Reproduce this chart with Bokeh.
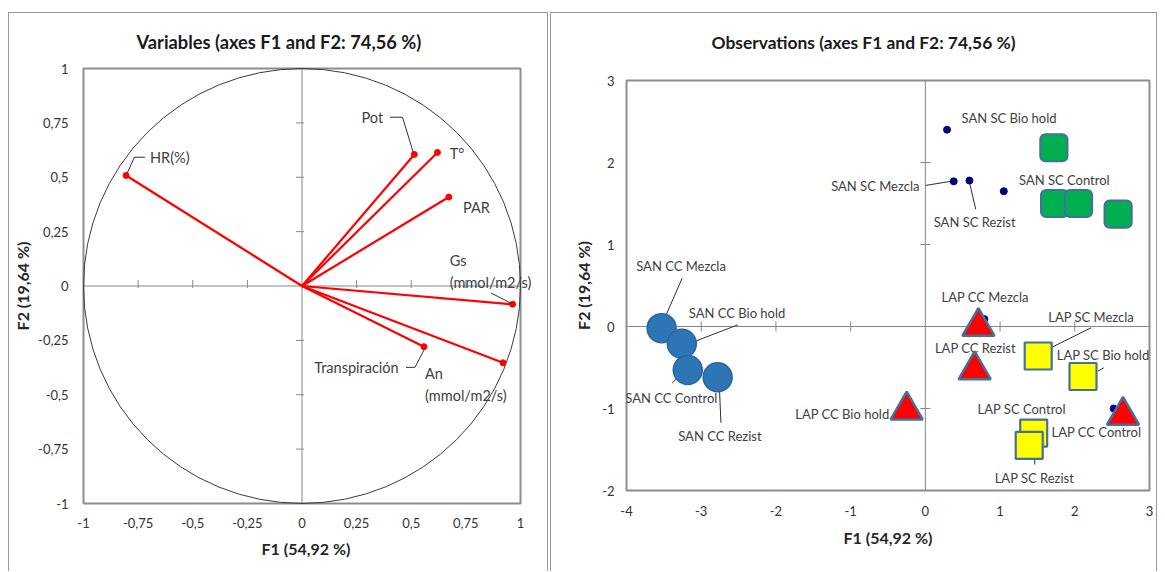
from bokeh.plotting import figure
from bokeh.models import (Range1d, Spacer, Title, LabelSet, ColumnDataSource, FixedTicker,
                          CustomJSTickFormatter, Rect)
from bokeh.layouts import row, column
from bokeh.embed import file_html
from bokeh.resources import INLINE
from bokeh.core.properties import value

FONT = "Lato"
TEXT_GRAY = "#404040"
AXIS_GRAY = "#868686"
FRAME_GRAY = "#8c8c8c"
MARKER_EDGE = "#41719c"

# ---------------- Variables (correlation circle) ----------------
var_names = ["HR(%)", "Pot", "T°", "PAR", "Gs\n(mmol/m2/s)", "Transpiración", "An\n(mmol/m2/s)"]
var_f1 = [-0.805, 0.514, 0.620, 0.672, 0.964, 0.558, 0.920]
var_f2 = [0.508, 0.605, 0.614, 0.409, -0.084, -0.279, -0.353]

# label anchor points (centre of each label)
var_lab_x = [-0.605, 0.322, 0.709, 0.798, 0.863, 0.249, 0.750]
var_lab_y = [0.592, 0.773, 0.608, 0.363, 0.066, -0.374, -0.453]

# leader lines from labels to their arrow tips
var_lead_xs = [[-0.800, -0.767, -0.719], [0.403, 0.460, 0.509], [0.865, 0.960], [0.476, 0.517, 0.558]]
var_lead_ys = [[0.519, 0.592, 0.592], [0.776, 0.776, 0.615], [-0.032, -0.081], [-0.374, -0.374, -0.295]]

var_ticks = [-1, -0.75, -0.5, -0.25, 0, 0.25, 0.5, 0.75, 1]

# ---------------- Observations ----------------
obs_names = ["SAN SC Bio hold", "SAN SC Mezcla", "SAN SC Rezist", "SAN SC Control",
             "SAN CC Mezcla", "SAN CC Bio hold", "SAN CC Control", "SAN CC Rezist",
             "LAP CC Mezcla", "LAP CC Rezist", "LAP CC Bio hold", "LAP CC Control",
             "LAP SC Mezcla", "LAP SC Bio hold", "LAP SC Control", "LAP SC Rezist"]
obs_f1 = [0.29, 0.38, 0.59, 1.05,
          -3.53, -3.26, -3.18, -2.78,
          0.79, 0.66, -0.25, 2.52,
          1.51, 2.11, 1.45, 1.39]
obs_f2 = [2.40, 1.77, 1.78, 1.65,
          -0.02, -0.21, -0.53, -0.62,
          0.09, -0.53, -1.02, -1.00,
          -0.36, -0.61, -1.30, -1.45]

obs_lab_x = [1.12, -0.67, 0.66, 1.86,
             -3.27, -2.52, -3.40, -2.75,
             0.80, 0.67, -1.11, 2.29,
             2.22, 2.38, 1.29, 1.46]
obs_lab_y = [2.54, 1.71, 1.28, 1.79,
             0.74, 0.17, -0.87, -1.34,
             0.36, -0.26, -1.07, -1.29,
             0.12, -0.35, -1.01, -1.85]

obs_lead_xs = [[0.00, 0.34], [0.674, 0.59],
               [-3.255, -3.47], [-2.51, -3.08], [-3.39, -3.31], [-2.736, -2.756],
               [2.218, 1.70], [2.389, 2.308], [1.464, 1.464]]
obs_lead_ys = [[1.72, 1.77], [1.43, 1.76],
               [0.59, 0.14], [0.02, -0.18], [-0.69, -0.62], [-1.174, -0.757],
               [-0.016, -0.25], [-0.504, -0.545], [-1.626, -1.683]]

# group markers
san_cc_f1 = [-3.53, -3.26, -3.18, -2.78]
san_cc_f2 = [-0.02, -0.21, -0.53, -0.62]
san_sc_f1 = [1.72, 1.73, 2.05, 2.58]
san_sc_f2 = [2.18, 1.50, 1.50, 1.37]
lap_cc_f1 = [0.71, 0.66, -0.25, 2.645]
lap_cc_f2 = [0.00, -0.53, -1.02, -1.085]
lap_sc_f1 = [1.51, 2.11, 1.45, 1.39]
lap_sc_f2 = [-0.36, -0.61, -1.30, -1.45]

obs_xticks = [-4, -3, -2, -1, 0, 1, 2, 3]
obs_yticks = [-2, -1, 0, 1, 2, 3]

comma_fmt = CustomJSTickFormatter(code="return String(tick).replace('.', ',');")


def style_axes(p, xticks, yticks, xstand, ystand, xlab_stand, ylab_stand):
    p.grid.visible = False
    p.xaxis.ticker = FixedTicker(ticks=xticks)
    p.yaxis.ticker = FixedTicker(ticks=yticks)
    for ax in (p.xaxis, p.yaxis):
        ax.formatter = comma_fmt
        ax.axis_line_color = None
        ax.major_tick_line_color = None
        ax.minor_tick_line_color = None
        ax.major_tick_in = 0
        ax.major_tick_out = 0
        ax.major_label_text_font = FONT
        ax.major_label_text_font_size = "13px"
        ax.major_label_text_color = "#333333"
        ax.axis_label_text_font = FONT
        ax.axis_label_text_font_size = "16px"
        ax.axis_label_text_font_style = "bold"
        ax.axis_label_text_color = "#262626"
    p.xaxis.major_label_standoff = xstand
    p.yaxis.major_label_standoff = ystand
    p.xaxis.axis_label_standoff = xlab_stand
    p.yaxis.axis_label_standoff = ylab_stand
    p.xaxis.axis_label = "F1 (54,92 %)"
    p.yaxis.axis_label = "F2 (19,64 %)"


def center_cross(p, xr, yr, xticks, yticks, px_x, px_y, up, down):
    """Zero lines with small tick marks (px_x / px_y = pixels per data unit)."""
    p.segment(x0=[xr[0], 0], y0=[0, yr[0]], x1=[xr[1], 0], y1=[0, yr[1]],
              line_color=AXIS_GRAY, line_width=1)
    xt = [t for t in xticks if t not in (0, xr[0], xr[1])]
    yt = [t for t in yticks if t not in (0, yr[0], yr[1])]
    p.segment(x0=xt, y0=[-down / px_y] * len(xt), x1=xt, y1=[up / px_y] * len(xt),
              line_color=AXIS_GRAY, line_width=1)
    p.segment(x0=[-up / px_x] * len(yt), y0=yt, x1=[down / px_x] * len(yt), y1=yt,
              line_color=AXIS_GRAY, line_width=1)


def chart_title(text, size, offset, standoff):
    return Title(text=text, align="left", offset=offset, standoff=standoff,
                 text_font=FONT, text_font_size=size, text_font_style="bold",
                 text_color="#1a1a1a")


panel_css = {"border-top": "1px solid #9a9a9a", "border-left": "1px solid #9a9a9a",
             "border-right": "1px solid #9a9a9a"}

# ---------------- left chart ----------------
# the plotting area runs a few pixels past the unit box (drawn as a quad) so that
# long labels near the right edge are not cut off
PX_X1, PX_Y1 = 218.5, 217.5
p1 = figure(width=540, height=559,
            x_range=Range1d(-1 - 8 / PX_X1, 1 + 16 / PX_X1),
            y_range=Range1d(-1 - 2 / PX_Y1, 1 + 2 / PX_Y1),
            output_backend="svg", toolbar_location=None,
            min_border_left=66, min_border_right=13, min_border_top=53, min_border_bottom=67,
            title=None)
p1.outline_line_color = None
style_axes(p1, var_ticks, var_ticks, 12, 7, 8, 3)
p1.add_layout(chart_title("Variables (axes F1 and F2: 74,56 %)", "18.3px", 61, 28), "above")
p1.quad(left=-1, right=1, bottom=-1, top=1, fill_color=None,
        line_color=FRAME_GRAY, line_width=2)
center_cross(p1, (-1, 1), (-1, 1), var_ticks, var_ticks, PX_X1, PX_Y1, 6, 2)

p1.ellipse(x=0, y=0, width=2, height=2, fill_color=None, line_color="#3a3a3a", line_width=1)
p1.segment(x0=[0] * len(var_f1), y0=[0] * len(var_f2), x1=var_f1, y1=var_f2,
           line_color="#ff0000", line_width=2.2)
p1.scatter(var_f1, var_f2, size=6, color="#ff0000")
p1.multi_line(var_lead_xs, var_lead_ys, line_color="#303030", line_width=1)
var_src = ColumnDataSource(dict(x=var_lab_x, y=var_lab_y, name=var_names))
p1.add_layout(LabelSet(x="x", y="y", text="name", source=var_src, text_align="center",
                       text_baseline="middle", text_font=value(FONT),
                       text_font_size="14.5px", text_color=TEXT_GRAY, text_line_height=1.3))
p1.styles = panel_css

# ---------------- right chart ----------------
p2 = figure(width=607, height=559, x_range=Range1d(-4, 3), y_range=Range1d(-2, 3),
            output_backend="svg", toolbar_location=None,
            min_border_left=75, min_border_right=9, min_border_top=67, min_border_bottom=82,
            title=None)
p2.outline_line_color = FRAME_GRAY
p2.outline_line_width = 2
style_axes(p2, obs_xticks, obs_yticks, 15, 12, 9, 6)
# blank band between the title and the plotting area
p2.add_layout(Title(text=" ", text_font_size="1px", standoff=25), "above")
p2.add_layout(chart_title("Observations (axes F1 and F2: 74,56 %)", "17.4px", 85, 0), "above")
center_cross(p2, (-4, 3), (-2, 3), obs_xticks, obs_yticks, 74.3, 82.0, 5, 5)

# observation labels and leaders sit underneath the group markers
p2.multi_line(obs_lead_xs, obs_lead_ys, line_color="#303030", line_width=1)
p2.text(obs_lab_x, obs_lab_y, text=obs_names, text_align="center", text_baseline="middle",
        text_font=value(FONT), text_font_size="13px", text_color=TEXT_GRAY)
p2.scatter(obs_f1, obs_f2, size=7, color="#000080")

p2.scatter(san_cc_f1, san_cc_f2, marker="circle", size=29, fill_color="#2e75b6",
           line_color="#2a66a0", line_width=1.5)
if "border_radius" in Rect.properties():
    p2.rect(san_sc_f1, san_sc_f2, width=27, height=27, width_units="screen",
            height_units="screen", fill_color="#00b050", line_color=MARKER_EDGE,
            line_width=2.2, border_radius=5)
else:
    p2.scatter(san_sc_f1, san_sc_f2, marker="square", size=27, fill_color="#00b050",
               line_color=MARKER_EDGE, line_width=2.2, line_join="round")
p2.scatter(lap_sc_f1, lap_sc_f2, marker="square", size=27, fill_color="#ffff00",
           line_color=MARKER_EDGE, line_width=2.2)
p2.scatter(lap_cc_f1, lap_cc_f2, marker="triangle", size=32, fill_color="#ff0000",
           line_color=MARKER_EDGE, line_width=2.5)
p2.styles = panel_css

layout = column(Spacer(height=12),
                row(Spacer(width=8), column(p1), Spacer(width=2), column(p2)))

open("out.html", "w").write(file_html(layout, INLINE))
